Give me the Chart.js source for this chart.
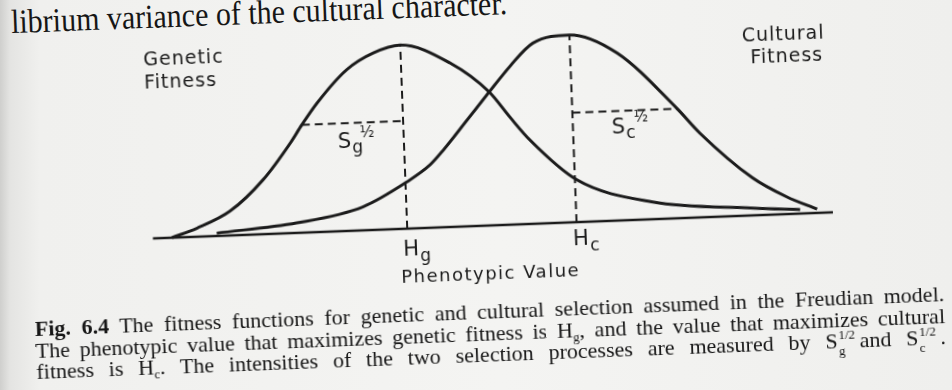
<!DOCTYPE html>
<html>
<head>
<meta charset="utf-8">
<script src="https://cdn.jsdelivr.net/npm/chart.js@4/dist/chart.umd.min.js"></script>
<style>
html,body{margin:0;padding:0;width:952px;height:390px;overflow:hidden;
 background:linear-gradient(90deg,#cfcfcd 0,#e4e4e2 10px,#f0f0ee 40px,#f4f4f2 500px,#efefed 952px);}
#page{position:absolute;left:0;top:0;width:952px;height:390px;transform:rotate(-2.2deg);transform-origin:476px 195px;}
#c{position:absolute;left:0;top:0;}
.top{position:absolute;left:18px;top:-9px;font:30px/30px "Liberation Serif",serif;color:#161616;white-space:nowrap;transform:scaleY(1.12);transform-origin:0 100%;}
.cap{position:absolute;left:30px;top:301px;width:910px;font:22px/21.5px "Liberation Serif",serif;color:#161616;}
.cap div{white-space:nowrap;text-align:justify;text-align-last:justify;}
.ss{display:inline-block;position:relative;width:22px;height:10px;}
.ss i{font-style:normal;position:absolute;left:1px;font-size:13px;line-height:13px;}
.ss .u{top:-10px;}
.ss .d{top:6px;}
sub{font-size:13px;line-height:0;vertical-align:-4px;}
</style>
</head>
<body>
<div id="page">
 <div class="top">librium variance of the cultural character.</div>
 <canvas id="c" width="952" height="390"></canvas>
 <div class="cap">
  <div><b>Fig. 6.4</b> The fitness functions for genetic and cultural selection assumed in the Freudian model.</div>
  <div>The phenotypic value that maximizes genetic fitness is H<sub>g</sub>, and the value that maximizes cultural</div>
  <div>fitness is H<sub>c</sub>. The intensities of the two selection processes are measured by S<span class="ss"><i class="u">1/2</i><i class="d">g</i></span>and S<span class="ss"><i class="u">1/2</i><i class="d">c</i></span>.</div>
 </div>
</div>
<script>
const INK="#1b1b1b";

// phenotypic value runs 0..100 along the axis, fitness 0..1 (cultural peak)
const genX=[2.8,6.5,11.5,16.5,20.7,22.5,24.9,29.4,33.4,37.4,44.6,50.2,53.1,55.9,62.6,73.6,88.3,95.2];
const genY=[0.0,0.045,0.13,0.29,0.48,0.575,0.69,0.86,0.944,0.981,0.875,0.712,0.574,0.448,0.225,0.092,0.039,0.021];

const culX=[9.4,21.2,31.0,37.6,41.1,43.1,46.8,50.2,53.4,56.9,62.3,69.2,77.7,80.9,88.4,93.3,97.7];
const culY=[0.015,0.053,0.125,0.249,0.335,0.41,0.567,0.712,0.845,0.964,1.0,0.894,0.585,0.45,0.2,0.092,0.02];

const axisX=[0,100];
const axisY=[0,0];

const hg=37.4, hgTop=0.981;
const hc=62.3, hcTop=1.0;
const sgX=[22.5,hg], sgY=[0.575,0.575];
const scX=[hc,77.8], scY=[0.585,0.585];

function pts(xs,ys){return xs.map((v,i)=>({x:v,y:ys[i]}));}

function line(data,opts){
 return Object.assign({data,borderColor:INK,borderWidth:3,pointRadius:0,fill:false,tension:0,clip:false},opts||{});
}

const labelPlugin={
 id:"labels",
 afterDatasetsDraw(chart){
  const ctx=chart.ctx,x=chart.scales.x,y=chart.scales.y;
  const px=v=>x.getPixelForValue(v),py=v=>y.getPixelForValue(v);
  ctx.save();
  ctx.fillStyle=INK;
  ctx.textBaseline="middle";

  ctx.font='19px "DejaVu Sans"';
  ctx.letterSpacing="1px";
  ctx.textAlign="left";
  ctx.fillText("Genetic",px(-0.4),py(0.948));
  ctx.fillText("Fitness",px(-0.4),py(0.827));
  ctx.textAlign="center";
  ctx.fillText("Cultural",px(93.7),py(0.955));
  ctx.fillText("Fitness",px(94.1),py(0.837));

  ctx.font='18px "DejaVu Sans"';
  ctx.letterSpacing="1.5px";
  ctx.fillText("Phenotypic Value",px(49.4),py(-0.265));

  ctx.letterSpacing="0px";
  ctx.textAlign="left";
  // H_g, H_c
  [[36.7,-0.113,"g"],[61.7,-0.094,"c"]].forEach(([a,b,s])=>{
   ctx.font='21px "DejaVu Sans"';
   ctx.fillText("H",px(a),py(b));
   const w=ctx.measureText("H").width;
   ctx.font='17px "DejaVu Sans"';
   ctx.fillText(s,px(a)+w+1,py(b)+7);
  });
  // S_g^1/2, S_c^1/2
  [[27.7,0.471,"g"],[68.0,0.495,"c"]].forEach(([a,b,s])=>{
   ctx.font='21px "DejaVu Sans"';
   ctx.fillText("S",px(a),py(b));
   const w=ctx.measureText("S").width;
   ctx.font='17px "DejaVu Sans"';
   ctx.fillText(s,px(a)+w+1,py(b)+6);
   ctx.font='15px "DejaVu Sans"';
   ctx.fillText("½",px(a)+w+9,py(b)-9);
  });
  ctx.restore();
 }
};

new Chart(document.getElementById("c"),{
 type:"line",
 data:{datasets:[
  line(pts(axisX,axisY),{borderWidth:2.5}),
  line(pts([hg,hg],[0,hgTop]),{borderWidth:2,borderDash:[8,5]}),
  line(pts([hc,hc],[0,hcTop]),{borderWidth:2,borderDash:[8,5]}),
  line(pts(sgX,sgY),{borderWidth:2,borderDash:[8,5]}),
  line(pts(scX,scY),{borderWidth:2,borderDash:[8,5]}),
  line(pts(genX,genY),{cubicInterpolationMode:"monotone"}),
  line(pts(culX,culY),{cubicInterpolationMode:"monotone"})
 ]},
 options:{
  responsive:false,
  animation:false,
  layout:{padding:{left:151.5,right:120,top:19.9,bottom:145.3}},
  plugins:{legend:{display:false},tooltip:{enabled:false}},
  scales:{
   x:{type:"linear",min:0,max:100,display:false},
   y:{type:"linear",min:-0.1,max:1.1,display:false}
  }
 },
 plugins:[labelPlugin]
});
</script>
</body>
</html>
